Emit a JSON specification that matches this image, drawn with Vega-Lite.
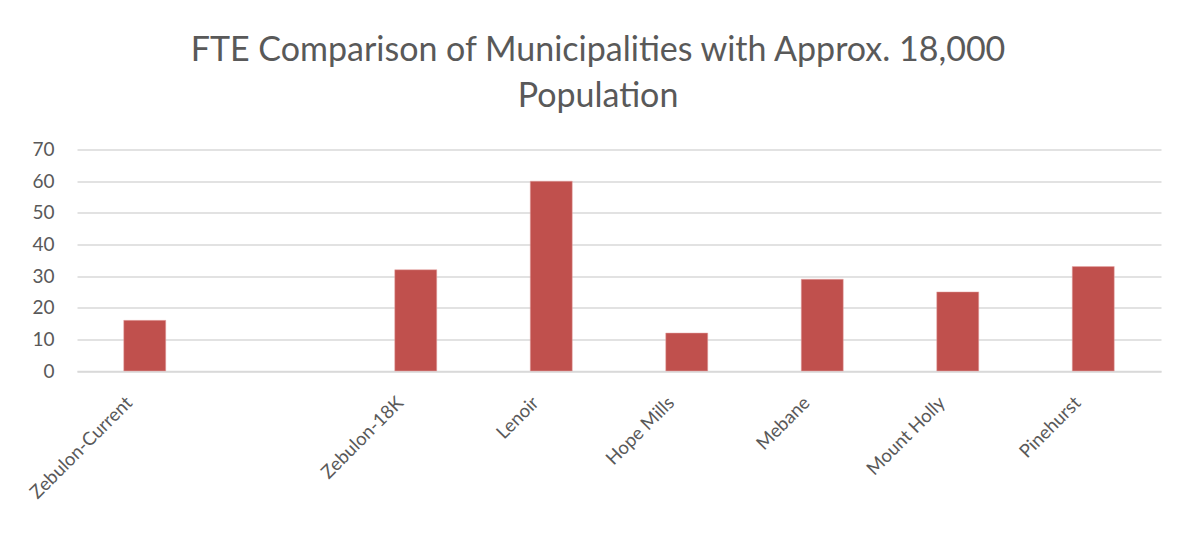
{
  "$schema": "https://vega.github.io/schema/vega-lite/v6.json",
  "width": 1084,
  "height": 221.5,
  "autosize": {"type": "none"},
  "padding": {"left": 77, "top": 149.5, "right": 22, "bottom": 165},
  "background": "white",
  "title": {
    "text": ["FTE Comparison of Municipalities with Approx. 18,000", "Population"],
    "font": "Lato",
    "fontSize": 34,
    "fontWeight": "normal",
    "color": "#595959",
    "anchor": "middle",
    "dx": -21,
    "offset": 27,
    "lineHeight": 46
  },
  "data": {
    "values": [
      {"municipality": "Zebulon-Current", "fte": 16},
      {"municipality": "Zebulon-18K", "fte": 32},
      {"municipality": "Lenoir", "fte": 60},
      {"municipality": "Hope Mills", "fte": 12},
      {"municipality": "Mebane", "fte": 29},
      {"municipality": "Mount Holly", "fte": 25},
      {"municipality": "Pinehurst", "fte": 33}
    ]
  },
  "mark": {"type": "bar", "color": "#C0504D", "stroke": "#e6a9a8", "strokeWidth": 0.5},
  "encoding": {
    "x": {
      "field": "municipality",
      "type": "nominal",
      "sort": null,
      "scale": {
        "domain": ["Zebulon-Current", " ", "Zebulon-18K", "Lenoir", "Hope Mills", "Mebane", "Mount Holly", "Pinehurst"],
        "paddingInner": 0.69,
        "paddingOuter": 0.345
      },
      "axis": {
        "title": null,
        "labelAngle": -45,
        "labelFont": "Lato",
        "labelFontSize": 18.5,
        "labelColor": "#595959",
        "labelPadding": 22,
        "labelOffset": -22,
        "ticks": false,
        "domainColor": "#d9d9d9",
        "domainWidth": 1.5,
        "grid": false
      }
    },
    "y": {
      "field": "fte",
      "type": "quantitative",
      "scale": {"domain": [0, 70], "nice": false},
      "axis": {
        "title": null,
        "values": [0, 10, 20, 30, 40, 50, 60, 70],
        "labelFont": "Lato",
        "labelFontSize": 19,
        "labelColor": "#595959",
        "labelPadding": 23,
        "ticks": false,
        "domain": false,
        "grid": true,
        "gridColor": "#d9d9d9",
        "gridWidth": 1.5
      }
    }
  },
  "config": {"view": {"stroke": null}}
}
